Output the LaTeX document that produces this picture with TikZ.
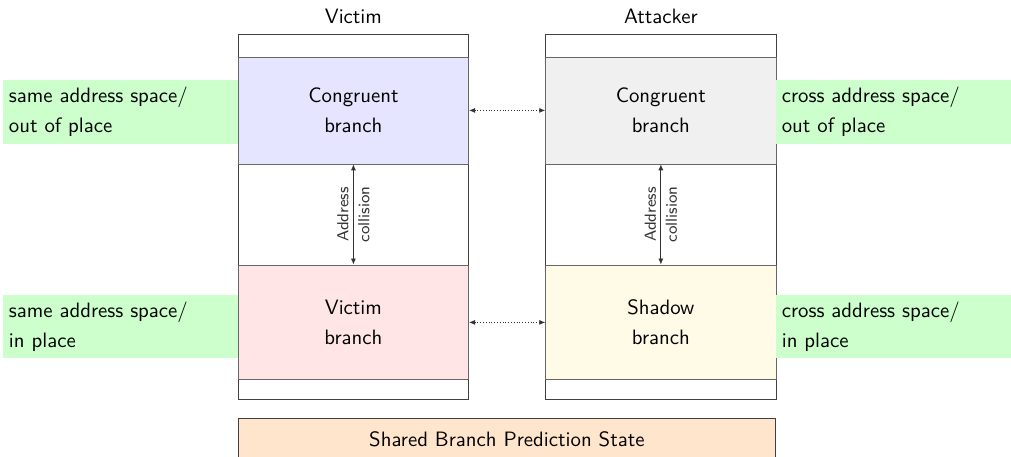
\documentclass[tikz,border=0pt]{standalone}
\usepackage{tikz}
\usetikzlibrary{arrows.meta,positioning,calc}
\renewcommand{\familydefault}{\sfdefault}
\definecolor{shadowfill}{RGB}{255,251,231}

\begin{document}
\begin{tikzpicture}[
  col/.style={draw=black!75, fill=white, minimum width=4.05cm, minimum height=6.4cm, inner sep=0pt},
  region/.style={draw=black!60, minimum width=4.05cm, align=center, inner sep=0pt,
                 font=\fontsize{10.4}{15}\selectfont},
  side/.style={fill=green!20, minimum width=4.13cm, minimum height=1.12cm, text width=3.92cm,
               align=left, inner xsep=3pt, font=\fontsize{10.4}{15}\selectfont},
  arr/.style={{Latex[length=3pt,width=2.5pt]}-{Latex[length=3pt,width=2.5pt]}, black!80},
  darr/.style={arr, densely dotted},
  lbl/.style={font=\fontsize{8}{10.5}\selectfont, rotate=90, align=center, inner sep=1pt}
]
  \useasboundingbox (0,0) rectangle (17.77,8.03);

  % columns
  \node[col] (vcol) at (6.212, 4.217) {};
  \node[col] (acol) at (11.616, 4.217) {};
  \node[font=\fontsize{10.4}{12}\selectfont] (vtitle) at (6.212, 7.75) {Victim};
  \node[font=\fontsize{10.4}{12}\selectfont] (atitle) at (11.616, 7.75) {Attacker};

  % branches
  \node[region, fill=blue!10, minimum height=1.88cm] (vcong) at (6.212, 6.089)
    {Congruent\\branch};
  \node[region, fill=red!10, minimum height=2.02cm] (vvic) at (6.212, 2.363)
    {Victim\\branch};
  \node[region, fill=black!6, minimum height=1.88cm] (acong) at (11.616, 6.089)
    {Congruent\\branch};
  \node[region, fill=shadowfill, minimum height=2.02cm] (ashadow) at (11.616, 2.363)
    {Shadow\\branch};

  % cases
  \node[side] (sameout) at (2.117, 6.063) {same address space/\\out of place};
  \node[side] (samein)  at (2.117, 2.293) {same address space/\\in place};
  \node[side] (crossout) at (15.702, 6.063) {cross address space/\\out of place};
  \node[side] (crossin)  at (15.702, 2.293) {cross address space/\\in place};

  \node[draw=black!75, fill=orange!20, minimum width=9.455cm, minimum height=0.71cm,
        font=\fontsize{10.4}{12}\selectfont] (bps)
    at (8.909, 0.316) {Shared Branch Prediction State};

  \draw[darr] (vcong.east) -- (acong.west);
  \draw[darr] (vvic.east) -- (ashadow.west);
  \draw[arr] (vcong.south) -- node[lbl] {Address\\collision} (vvic.north);
  \draw[arr] (acong.south) -- node[lbl] {Address\\collision} (ashadow.north);
\end{tikzpicture}
\end{document}
